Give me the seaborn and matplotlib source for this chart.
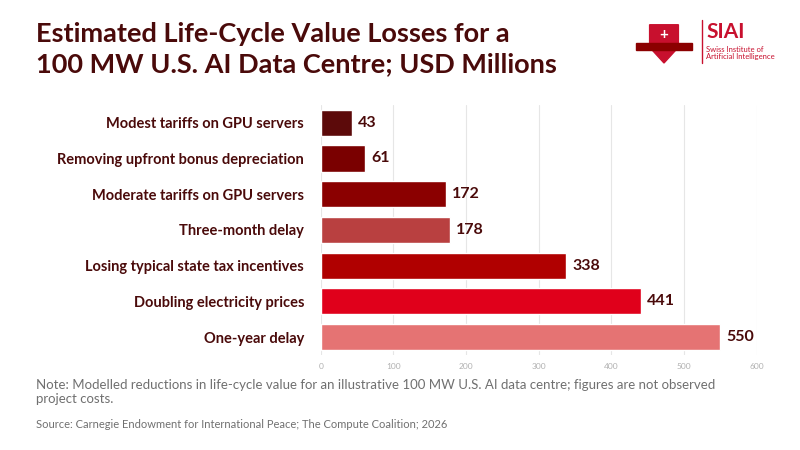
import matplotlib
matplotlib.use("Agg")
import matplotlib.pyplot as plt
import seaborn as sns
import pandas as pd
from matplotlib.patches import Polygon

categories = ["Modest tariffs on GPU servers", "Removing upfront bonus depreciation",
              "Moderate tariffs on GPU servers", "Three-month delay",
              "Losing typical state tax incentives", "Doubling electricity prices",
              "One-year delay"]
values = [43, 61, 172, 178, 338, 441, 550]
colors = ["#5c0a0a", "#7a0000", "#8b0000", "#b94040", "#b00000", "#e0001b", "#e57373"]

sns.set_theme(style="white")
plt.rcParams['font.family'] = ['Lato', 'DejaVu Sans']

df = pd.DataFrame({"cat": categories, "val": values})
fig = plt.figure(figsize=(8, 4.5), dpi=100)
ax = fig.add_axes([0.401, 0.211, 0.545, 0.556])
sns.barplot(data=df, x="val", y="cat", hue="cat", palette=colors, legend=False,
            width=0.73, ax=ax, saturation=1)
ax.set_xlim(0, 600)
ax.set_xticks(range(0, 601, 100))
ax.tick_params(axis='x', labelsize=6, colors="#b0b0b0", length=0, pad=6)
ax.tick_params(axis='y', labelsize=10.5, length=0, pad=12)
for lbl in ax.get_yticklabels():
    lbl.set_fontweight("bold")
    lbl.set_color("#4a0a0a")
ax.set_xlabel("")
ax.set_ylabel("")
ax.xaxis.grid(True, color="#e6e6e6", linewidth=0.8)
ax.set_axisbelow(True)
for s in ax.spines.values():
    s.set_visible(False)
for i, v in enumerate(values):
    ax.text(v + 8, i, str(v), va="center", ha="left", fontsize=11.5,
            fontweight="bold", color="#4a0a0a")

fig.text(0.045, 0.83, "Estimated Life-Cycle Value Losses for a\n100 MW U.S. AI Data Centre; USD Millions",
         fontsize=19.5, fontweight="bold", color="#4a0a0a", va="bottom", linespacing=1.3)

# logo approximation
lx, ly = 0.83, 0.9
shield = Polygon([[lx-0.018, ly+0.045], [lx+0.018, ly+0.045], [lx+0.018, ly-0.005],
                  [lx, ly-0.04], [lx-0.018, ly-0.005]], closed=True,
                 transform=fig.transFigure, color="#c8102e")
fig.patches.append(shield)
fig.patches.append(plt.Rectangle((lx-0.035, ly-0.012), 0.07, 0.016, transform=fig.transFigure,
                                 color="#8b0000"))
fig.text(lx, ly+0.022, "+", color="white", fontsize=11, fontweight="bold", ha="center", va="center")
fig.add_artist(plt.Line2D([0.877, 0.877], [0.86, 0.955], color="#c8102e", lw=1))
fig.text(0.883, 0.93, "SIAI", fontsize=15, fontweight="bold", color="#c8102e", va="center")
fig.text(0.883, 0.882, "Swiss Institute of\nArtificial Intelligence", fontsize=5.5,
         color="#c8102e", va="center", linespacing=1.0)

fig.text(0.045, 0.1, "Note: Modelled reductions in life-cycle value for an illustrative 100 MW U.S. AI data centre; figures are not observed\nproject costs.",
         fontsize=9.5, color="#707070", va="bottom", linespacing=1.2)
fig.text(0.045, 0.045, "Source: Carnegie Endowment for International Peace; The Compute Coalition; 2026",
         fontsize=8, color="#707070", va="bottom")

fig.savefig("out.png", dpi=100)
